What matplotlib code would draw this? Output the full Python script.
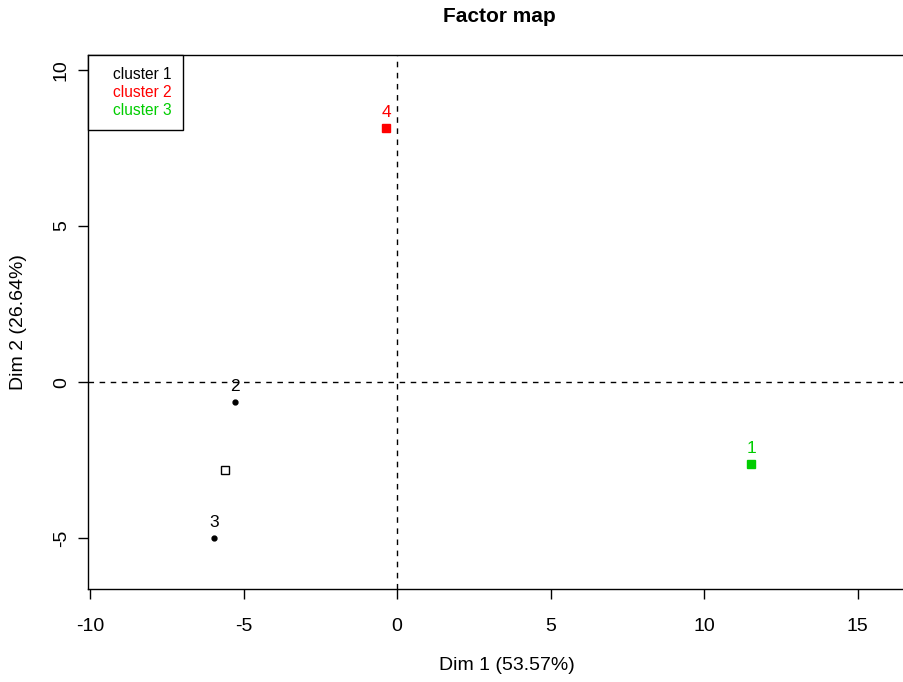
import matplotlib
matplotlib.use("Agg")
import matplotlib.pyplot as plt

plt.rcParams['font.family'] = ['Liberation Sans', 'DejaVu Sans']

# Data
labels = ["1", "2", "3", "4"]
dim1 = [11.53, -5.28, -5.96, -0.36]
dim2 = [-2.63, -0.64, -5.00, 8.14]
cluster = [3, 1, 1, 2]
cluster_names = ["cluster 1", "cluster 2", "cluster 3"]
cluster_colors = ["black", "red", "#00CD00"]
xticks = [-10, -5, 0, 5, 10, 15]
yticks = [-5, 0, 5, 10]

fig = plt.figure(figsize=(9.04, 6.82), dpi=100)
W, H = 904, 682
left, right, top, bottom = 88, 919, 55, 589
ax = fig.add_axes([left / W, 1 - bottom / H, (right - left) / W, (bottom - top) / H])
ax.set_xlim(-10.07, 17.0)
ax.set_ylim(-6.63, 10.48)

ax.axhline(0, color="black", linestyle=(0, (4, 4)), linewidth=1)
ax.axvline(0, color="black", linestyle=(0, (4, 4)), linewidth=1)

# individual points
for lab, x, y, c in zip(labels, dim1, dim2, cluster):
    col = cluster_colors[c - 1]
    ax.plot(x, y, 'o', color=col, markersize=3.5, zorder=3)
    ax.text(x, y + 0.25, lab, color=col, ha="center", va="bottom", fontsize=12.5)

# cluster centres
for k in range(1, 4):
    xs = [x for x, c in zip(dim1, cluster) if c == k]
    ys = [y for y, c in zip(dim2, cluster) if c == k]
    cx = sum(xs) / len(xs)
    cy = sum(ys) / len(ys)
    col = cluster_colors[k - 1]
    ax.plot(cx, cy, 's', markerfacecolor='none', markeredgecolor=col,
            markersize=5.5, markeredgewidth=1, zorder=4)
    if len(xs) == 1:
        ax.plot(cx, cy, 's', color=col, markersize=5, zorder=3)

ax.set_xticks(xticks)
ax.set_yticks(yticks)
ax.set_xticklabels([str(t) for t in xticks], fontsize=14)
ax.set_yticklabels([str(t) for t in yticks], fontsize=14, rotation=90, va="center")
ax.tick_params(axis="x", direction="out", length=7, width=1, pad=14)
ax.tick_params(axis="y", direction="out", length=7, width=1, pad=6)
for s in ax.spines.values():
    s.set_linewidth(1)

leg = ax.legend(handles=[plt.Line2D([], [], linestyle='none') for _ in cluster_names],
                labels=cluster_names, loc="upper left", fontsize=11.2,
                handlelength=0, handletextpad=0.85, borderaxespad=0,
                fancybox=False, edgecolor="black", framealpha=1,
                labelspacing=0.2, borderpad=0.75)
leg.get_frame().set_linewidth(1)
for t, col in zip(leg.get_texts(), cluster_colors):
    t.set_color(col)

fig.text(499 / W, 1 - 16 / H, "Factor map", ha="center", va="center",
         fontsize=15, fontweight="bold")
fig.text(507 / W, 1 - 666 / H, "Dim 1 (53.57%)", ha="center", va="center", fontsize=14)
fig.text(19 / W, 1 - 322 / H, "Dim 2 (26.64%)", ha="center", va="center",
         fontsize=14, rotation=90)

fig.savefig("out.png", dpi=100)
